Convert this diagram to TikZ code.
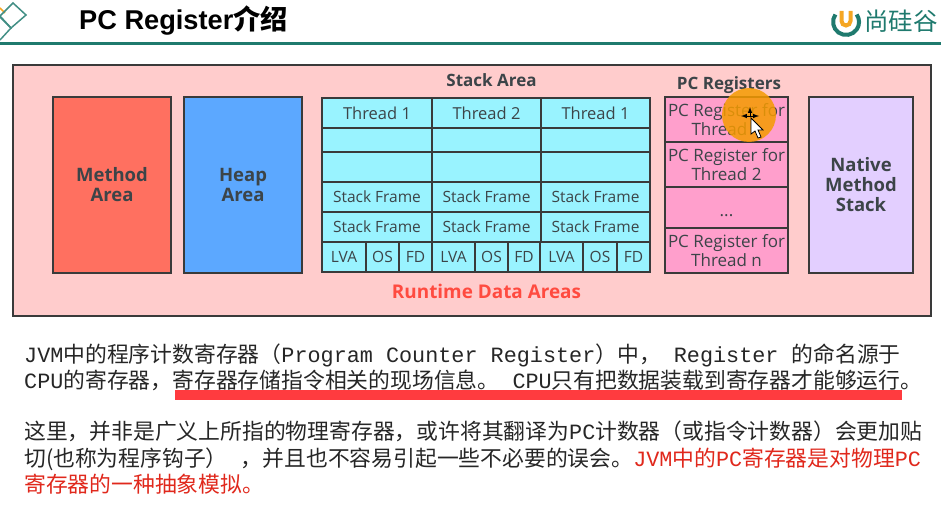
\documentclass[tikz,border=0pt]{standalone}
\usepackage{fontspec}
\setmainfont{Noto Sans CJK SC}
\newfontfamily\monofam{Liberation Mono}
\newfontfamily\labelfam{Open Sans}
\newfontfamily\titlefam{Liberation Sans}
\definecolor{ruleteal}{HTML}{1F7A6E}
\definecolor{linegrey}{HTML}{3A3A3A}
\definecolor{labelgrey}{HTML}{3C4448}
\definecolor{pagepink}{HTML}{FFCCCC}
\definecolor{methodred}{HTML}{FF7060}
\definecolor{heapblue}{HTML}{5CA8FF}
\definecolor{stackcyan}{HTML}{99F3FF}
\definecolor{regpink}{HTML}{FF9FCC}
\definecolor{nativelilac}{HTML}{E3CFFF}
\definecolor{areared}{HTML}{FF4B40}
\definecolor{markred}{HTML}{FF3B3F}
\definecolor{notered}{HTML}{E0281C}
\definecolor{logoorange}{HTML}{F5A623}
\definecolor{spotorange}{HTML}{F59B00}
\newcommand{\lat}[1]{{\monofam #1}}
\tikzset{
        box/.style={draw=linegrey, line width=2pt, inner sep=0pt, outer sep=0pt,
                anchor=north west, align=center, text=labelgrey},
        stackcell/.style={box, fill=stackcyan, font=\labelfam\fontsize{15.5}{18}\selectfont},
        threadcell/.style={stackcell, font=\labelfam\fontsize{16.5}{18}\selectfont,
                minimum height=30pt},
        regcell/.style={box, fill=regpink, minimum width=123pt,
                font=\labelfam\fontsize{17}{19}\selectfont,
                execute at begin node={\rule{0pt}{16.5pt}}},
        bigcell/.style={box, minimum height=176pt,
                font=\labelfam\bfseries\fontsize{18.5}{20}\selectfont},
        caption/.style={inner sep=0pt, text=labelgrey, font=\labelfam\bfseries\fontsize{17}{18}\selectfont},
        noteline/.style={anchor=base west, inner sep=0pt, text=black!85,
                font=\fontsize{21.8}{24}\selectfont},
}
\begin{document}
\begin{tikzpicture}[x=1pt, y=-1pt]
        \useasboundingbox (0,0) rectangle (941,511);
        % header
        \draw[ruleteal, line width=3pt] (0,43.5) -- (941,43.5);
        \draw[logoorange, line width=1.5pt] (0,8) -- (5,13);
        \draw[ruleteal!85, line width=1.5pt] (0,16) -- (13,3) -- (26,15) -- (11,28) -- cycle;
        \draw[ruleteal!85, line width=1.5pt] (0,17) -- (11,28) -- (0,40);
        \node[anchor=base west, inner sep=0pt, font=\titlefam\bfseries\fontsize{27.2}{30}\selectfont] (title) at (79,30)
                {PC Register{\rmfamily\bfseries 介绍}};
        \draw[ruleteal, line width=4pt] (835.4,14.5) arc[start angle=215, end angle=-35, radius=13];
        \draw[logoorange, line width=4pt] (841.5,11) -- (841.5,21) arc[start angle=180, end angle=0, radius=4.5] -- (850.5,11);
        \node[anchor=west, inner sep=0pt, text=ruleteal, font=\fontsize{24.5}{26}\selectfont] (logo) at (864,21) {尚硅谷};

        % runtime data areas
        \node[box, fill=pagepink, minimum width=918pt, minimum height=251pt] (runtime) at (13,65) {};
        \node[bigcell, fill=methodred, minimum width=118pt] (method) at (53,97) {Method\\Area};
        \node[bigcell, fill=heapblue, minimum width=118pt] (heap) at (184,97) {Heap\\Area};
        \node[caption] (stackarea) at (491.5,80) {Stack Area};
        \node[caption] (pcarea) at (729,85) {PC Registers};
        \node[anchor=center, inner sep=0pt, text=areared, font=\labelfam\bfseries\fontsize{18.9}{20}\selectfont] (rda) at (486.5,291) {Runtime Data Areas};

        \node[threadcell, minimum width=110pt] (threada) at (322,98) {Thread 1};
        \node[threadcell, minimum width=109pt] (threadb) at (432,98) {Thread 2};
        \node[threadcell, minimum width=109pt] (threadc) at (541,98) {Thread 1};
        \node[stackcell, minimum width=110pt, minimum height=24pt] (emptyaa) at (322,128) {};
        \node[stackcell, minimum width=109pt, minimum height=24pt] (emptyab) at (432,128) {};
        \node[stackcell, minimum width=109pt, minimum height=24pt] (emptyac) at (541,128) {};
        \node[stackcell, minimum width=110pt, minimum height=30pt] (emptyba) at (322,152) {};
        \node[stackcell, minimum width=109pt, minimum height=30pt] (emptybb) at (432,152) {};
        \node[stackcell, minimum width=109pt, minimum height=30pt] (emptybc) at (541,152) {};
        \node[stackcell, minimum width=110pt, minimum height=30pt] (frameaa) at (322,182) {Stack Frame};
        \node[stackcell, minimum width=109pt, minimum height=30pt] (frameab) at (432,182) {Stack Frame};
        \node[stackcell, minimum width=109pt, minimum height=30pt] (frameac) at (541,182) {Stack Frame};
        \node[stackcell, minimum width=110pt, minimum height=30pt] (frameba) at (322,212) {Stack Frame};
        \node[stackcell, minimum width=109pt, minimum height=30pt] (framebb) at (432,212) {Stack Frame};
        \node[stackcell, minimum width=109pt, minimum height=30pt] (framebc) at (541,212) {Stack Frame};
        \node[stackcell, minimum width=44pt, minimum height=30pt] (lvaa) at (322,242) {LVA};
        \node[stackcell, minimum width=33pt, minimum height=30pt] (osa) at (366,242) {OS};
        \node[stackcell, minimum width=33pt, minimum height=30pt] (fda) at (399,242) {FD};
        \node[stackcell, minimum width=43pt, minimum height=30pt] (lvab) at (432,242) {LVA};
        \node[stackcell, minimum width=33pt, minimum height=30pt] (osb) at (475,242) {OS};
        \node[stackcell, minimum width=32pt, minimum height=30pt] (fdb) at (508,242) {FD};
        \node[stackcell, minimum width=43pt, minimum height=30pt] (lvac) at (540,242) {LVA};
        \node[stackcell, minimum width=34pt, minimum height=30pt] (osc) at (583,242) {OS};
        \node[stackcell, minimum width=33pt, minimum height=30pt] (fdc) at (617,242) {FD};

        \node[regcell, minimum height=45pt] (rega) at (665,97) {PC Register for\\Thread 1};
        \node[regcell, minimum height=45pt] (regb) at (665,142) {PC Register for\\Thread 2};
        \node[regcell, minimum height=41pt] (regdots) at (665,187) {\\...};
        \node[regcell, minimum height=45pt] (regn) at (665,228) {PC Register for\\Thread n};
        \node[bigcell, fill=nativelilac, minimum width=104pt] (native) at (809,97) {Native\\Method\\Stack};

        % pointer
        \node[circle, fill=spotorange, opacity=.85, inner sep=0pt, minimum size=54pt] (spot) at (749,115) {};
        \draw[black, line width=1pt, <->, >=latex] (741,116) -- (759,116);
        \draw[black, line width=1pt, ->, >=latex] (750,116) -- (750,107);
        \draw[fill=white, draw=black, line width=.8pt] (751,118) -- (751,134) -- (755,131) -- (758,138) -- (761,137) -- (758,130) -- (763,130) -- cycle;

        % notes
        \node[noteline] (linea) at (24,362) {\lat{JVM}中的程序计数寄存器（\lat{Program Counter Register}）中，\lat{ Register }的命名源于};
        \node[noteline] (lineb) at (24,388) {\lat{CPU}的寄存器，寄存器存储指令相关的现场信息。\lat{ CPU}只有把数据装载到寄存器才能够运行。};
        \node[noteline] (linec) at (24,439) {这里，并非是广义上所指的物理寄存器，或许将其翻译为\lat{PC}计数器（或指令计数器）会更加贴};
        \node[noteline] (lined) at (24,466) {切(也称为程序钩子）\lat{ }，并且也不容易引起一些不必要的误会。{\color{notered}\lat{JVM}中的\lat{PC}寄存器是对物理\lat{PC}}};
        \node[noteline, text=notered] (linee) at (24,492) {寄存器的一种抽象模拟。};
        \fill[markred] (175,390) rectangle (902,400);
\end{tikzpicture}
\end{document}
